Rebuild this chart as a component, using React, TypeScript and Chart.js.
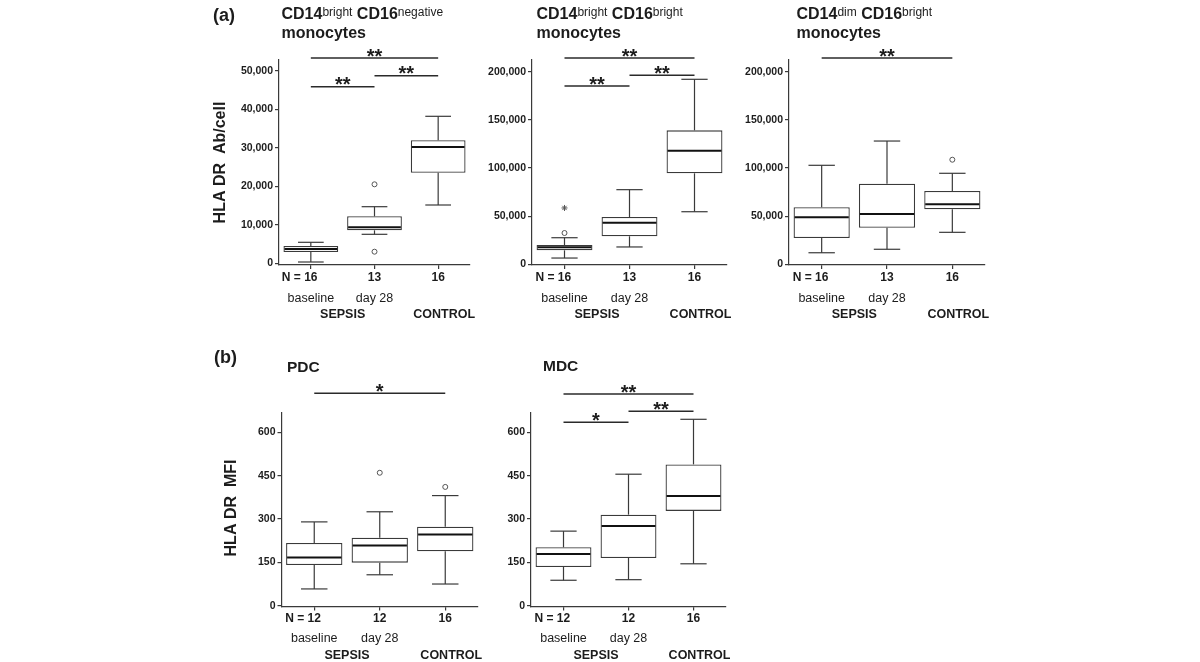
import React, { useEffect, useRef } from 'react';
import { Chart, registerables } from 'chart.js';

Chart.register(...registerables);

const FONT = '"Liberation Sans", Arial, Helvetica, sans-serif';
const TEXT = '#1c1c1c';
const LINE = '#3a3a3a';

// ---- categories and shared labels ----
const CATEGORIES_A = ['N = 16', '13', '16'];
const CATEGORIES_B = ['N = 12', '12', '16'];
const GROUP_LABELS = ['baseline', 'day 28'];
const SEPSIS_LABEL = 'SEPSIS';
const CONTROL_LABEL = 'CONTROL';

// ---- tick values / labels ----
const TICKS_A1 = [0, 10000, 20000, 30000, 40000, 50000];
const TICK_LABELS_A1 = ['0', '10,000', '20,000', '30,000', '40,000', '50,000'];
const TICKS_A23 = [0, 50000, 100000, 150000, 200000];
const TICK_LABELS_A23 = ['0', '50,000', '100,000', '150,000', '200,000'];
const TICKS_B = [0, 150, 300, 450, 600];
const TICK_LABELS_B = ['0', '150', '300', '450', '600'];

// ---- (a) CD14bright CD16negative monocytes ----
const A1_LOWER = [340, 7540, 15160];
const A1_Q1 = [2940, 8580, 23560];
const A1_MEDIAN = [3720, 9360, 30240];
const A1_Q3 = [4500, 12220, 31980];
const A1_UPPER = [5460, 14720, 38220];
const A1_OUTLIERS = [[], [20540, 3020], []];
const A1_EXTREMES = [[], [], []];
const A1_SIG_FROM = [0, 1, 0];
const A1_SIG_TO = [1, 2, 2];
const A1_SIG_Y = [45920, 48780, 53380];
const A1_SIG_TEXT = ['**', '**', '**'];

// ---- (a) CD14bright CD16bright monocytes ----
const A2_LOWER = [6500, 18000, 54600];
const A2_Q1 = [14500, 29100, 94500];
const A2_MEDIAN = [17600, 43200, 118000];
const A2_Q3 = [20000, 49100, 139100];
const A2_UPPER = [27600, 77500, 192100];
const A2_OUTLIERS = [[32500], [], []];
const A2_EXTREMES = [[58500], [], []];
const A2_SIG_FROM = [0, 1, 0];
const A2_SIG_TO = [1, 2, 2];
const A2_SIG_Y = [185100, 196300, 214200];
const A2_SIG_TEXT = ['**', '**', '**'];

// ---- (a) CD14dim CD16bright monocytes ----
const A3_LOWER = [12000, 15600, 33200];
const A3_Q1 = [27300, 38000, 57100];
const A3_MEDIAN = [48800, 52200, 62300];
const A3_Q3 = [59200, 83700, 76100];
const A3_UPPER = [102800, 128000, 94500];
const A3_OUTLIERS = [[], [], [108600]];
const A3_EXTREMES = [[], [], []];
const A3_SIG_FROM = [0];
const A3_SIG_TO = [2];
const A3_SIG_Y = [214200];
const A3_SIG_TEXT = ['**'];

// ---- (b) PDC ----
const B1_LOWER = [58, 107, 75];
const B1_Q1 = [141, 149, 188];
const B1_MEDIAN = [167, 208, 246];
const B1_Q3 = [217, 235, 273];
const B1_UPPER = [290, 325, 381];
const B1_OUTLIERS = [[], [460], [411]];
const B1_EXTREMES = [[], [], []];
const B1_SIG_FROM = [0];
const B1_SIG_TO = [2];
const B1_SIG_Y = [735];
const B1_SIG_TEXT = ['*'];

// ---- (b) MDC ----
const B2_LOWER = [88, 90, 145];
const B2_Q1 = [134, 165, 328];
const B2_MEDIAN = [179, 276, 380];
const B2_Q3 = [202, 315, 489];
const B2_UPPER = [258, 455, 645];
const B2_OUTLIERS = [[], [], []];
const B2_EXTREMES = [[], [], []];
const B2_SIG_FROM = [0, 1, 0];
const B2_SIG_TO = [1, 2, 2];
const B2_SIG_Y = [634.6, 672.6, 732.5];
const B2_SIG_TEXT = ['*', '**', '**'];

// ---- titles ----
const TITLE_A1 = [{ t: 'CD14', sup: false }, { t: 'bright', sup: true }, { t: ' CD16', sup: false }, { t: 'negative', sup: true }];
const TITLE_A2 = [{ t: 'CD14', sup: false }, { t: 'bright', sup: true }, { t: ' CD16', sup: false }, { t: 'bright', sup: true }];
const TITLE_A3 = [{ t: 'CD14', sup: false }, { t: 'dim', sup: true }, { t: ' CD16', sup: false }, { t: 'bright', sup: true }];
const TITLE_LINE2 = 'monocytes';
const TITLE_B1 = [{ t: 'PDC', sup: false }];
const TITLE_B2 = [{ t: 'MDC', sup: false }];
const Y_TITLE_A = 'HLA DR  Ab/cell';
const Y_TITLE_B = 'HLA DR  MFI';

type Seg = { t: string; sup: boolean };
type Panel = {
  key: string;
  canvas: { left: number; top: number; width: number; height: number };
  axisLeft: number; axisRight: number; plotTop: number; plotBottom: number;
  yMin: number; yMax: number; ticks: number[]; tickLabels: string[];
  categories: string[];
  lower: number[]; q1: number[]; median: number[]; q3: number[]; upper: number[];
  outliers: number[][]; extremes: number[][];
  sigFrom: number[]; sigTo: number[]; sigY: number[]; sigText: string[];
  title: Seg[]; titleSize: number; titleX: number; titleY: number; line2?: string; line2Y?: number;
  panelLabel?: { text: string; x: number; y: number };
  yTitle?: { text: string; x: number; y: number };
  catOffset: number; subOffset: number; groupOffset: number;
};

const PANELS: Panel[] = [
  {
    key: 'a1', canvas: { left: 200, top: 0, width: 290, height: 330 },
    axisLeft: 279, axisRight: 470, plotTop: 60, plotBottom: 265,
    yMin: -440, yMax: 52860, ticks: TICKS_A1, tickLabels: TICK_LABELS_A1,
    categories: CATEGORIES_A,
    lower: A1_LOWER, q1: A1_Q1, median: A1_MEDIAN, q3: A1_Q3, upper: A1_UPPER,
    outliers: A1_OUTLIERS, extremes: A1_EXTREMES,
    sigFrom: A1_SIG_FROM, sigTo: A1_SIG_TO, sigY: A1_SIG_Y, sigText: A1_SIG_TEXT,
    title: TITLE_A1, titleSize: 16, titleX: 281.5, titleY: 18.5, line2: TITLE_LINE2, line2Y: 37.5,
    panelLabel: { text: '(a)', x: 213, y: 21 },
    yTitle: { text: Y_TITLE_A, x: 225, y: 162.5 },
    catOffset: 16.3, subOffset: 37, groupOffset: 53.3,
  },
  {
    key: 'a2', canvas: { left: 478, top: 0, width: 272, height: 330 },
    axisLeft: 532, axisRight: 727, plotTop: 60, plotBottom: 265,
    yMin: -730, yMax: 212150, ticks: TICKS_A23, tickLabels: TICK_LABELS_A23,
    categories: CATEGORIES_A,
    lower: A2_LOWER, q1: A2_Q1, median: A2_MEDIAN, q3: A2_Q3, upper: A2_UPPER,
    outliers: A2_OUTLIERS, extremes: A2_EXTREMES,
    sigFrom: A2_SIG_FROM, sigTo: A2_SIG_TO, sigY: A2_SIG_Y, sigText: A2_SIG_TEXT,
    title: TITLE_A2, titleSize: 16, titleX: 536.5, titleY: 18.5, line2: TITLE_LINE2, line2Y: 37.5,
    catOffset: 16.3, subOffset: 37, groupOffset: 53.3,
  },
  {
    key: 'a3', canvas: { left: 740, top: 0, width: 270, height: 330 },
    axisLeft: 789, axisRight: 985, plotTop: 60, plotBottom: 265,
    yMin: -730, yMax: 212150, ticks: TICKS_A23, tickLabels: TICK_LABELS_A23,
    categories: CATEGORIES_A,
    lower: A3_LOWER, q1: A3_Q1, median: A3_MEDIAN, q3: A3_Q3, upper: A3_UPPER,
    outliers: A3_OUTLIERS, extremes: A3_EXTREMES,
    sigFrom: A3_SIG_FROM, sigTo: A3_SIG_TO, sigY: A3_SIG_Y, sigText: A3_SIG_TEXT,
    title: TITLE_A3, titleSize: 16, titleX: 796.5, titleY: 18.5, line2: TITLE_LINE2, line2Y: 37.5,
    catOffset: 16.3, subOffset: 37, groupOffset: 53.3,
  },
  {
    key: 'b1', canvas: { left: 200, top: 340, width: 290, height: 322 },
    axisLeft: 281.5, axisRight: 478, plotTop: 413, plotBottom: 606.5,
    yMin: -2.8, yMax: 666.8, ticks: TICKS_B, tickLabels: TICK_LABELS_B,
    categories: CATEGORIES_B,
    lower: B1_LOWER, q1: B1_Q1, median: B1_MEDIAN, q3: B1_Q3, upper: B1_UPPER,
    outliers: B1_OUTLIERS, extremes: B1_EXTREMES,
    sigFrom: B1_SIG_FROM, sigTo: B1_SIG_TO, sigY: B1_SIG_Y, sigText: B1_SIG_TEXT,
    title: TITLE_B1, titleSize: 15.5, titleX: 287, titleY: 371.5,
    panelLabel: { text: '(b)', x: 214, y: 363 },
    yTitle: { text: Y_TITLE_B, x: 236, y: 508 },
    catOffset: 15, subOffset: 35.5, groupOffset: 52.5,
  },
  {
    key: 'b2', canvas: { left: 478, top: 340, width: 272, height: 322 },
    axisLeft: 531, axisRight: 726, plotTop: 413, plotBottom: 606.5,
    yMin: -2.8, yMax: 666.8, ticks: TICKS_B, tickLabels: TICK_LABELS_B,
    categories: CATEGORIES_B,
    lower: B2_LOWER, q1: B2_Q1, median: B2_MEDIAN, q3: B2_Q3, upper: B2_UPPER,
    outliers: B2_OUTLIERS, extremes: B2_EXTREMES,
    sigFrom: B2_SIG_FROM, sigTo: B2_SIG_TO, sigY: B2_SIG_Y, sigText: B2_SIG_TEXT,
    title: TITLE_B2, titleSize: 15.5, titleX: 543, titleY: 370.5,
    catOffset: 15, subOffset: 35.5, groupOffset: 52.5,
  },
];

function line(ctx: CanvasRenderingContext2D, x1: number, y1: number, x2: number, y2: number) {
  ctx.beginPath();
  ctx.moveTo(x1, y1);
  ctx.lineTo(x2, y2);
  ctx.stroke();
}

function makePlugin(p: Panel) {
  return {
    id: 'boxExtras_' + p.key,
    afterDatasetsDraw(chart: any) {
      const ctx: CanvasRenderingContext2D = chart.ctx;
      const xs = chart.scales.x;
      const ys = chart.scales.y;
      const meta = chart.getDatasetMeta(0);
      ctx.save();
      for (let i = 0; i < p.categories.length; i++) {
        const x = xs.getPixelForValue(i);
        const half = meta.data[i].width / 2;
        const cap = half * 0.47;
        ctx.strokeStyle = LINE;
        ctx.lineWidth = 1.2;
        const yUp = ys.getPixelForValue(p.upper[i]);
        const yLo = ys.getPixelForValue(p.lower[i]);
        line(ctx, x, ys.getPixelForValue(p.q3[i]), x, yUp);
        line(ctx, x, ys.getPixelForValue(p.q1[i]), x, yLo);
        line(ctx, x - cap, yUp, x + cap, yUp);
        line(ctx, x - cap, yLo, x + cap, yLo);
        ctx.strokeStyle = '#111';
        ctx.lineWidth = 2;
        const yMed = ys.getPixelForValue(p.median[i]);
        line(ctx, x - half + 1, yMed, x + half - 1, yMed);
      }
      ctx.restore();
    },
    afterDraw(chart: any) {
      const ctx: CanvasRenderingContext2D = chart.ctx;
      const xs = chart.scales.x;
      const ys = chart.scales.y;
      const ox = p.canvas.left;
      const oy = p.canvas.top;
      const bottom = chart.chartArea.bottom;
      ctx.save();
      ctx.fillStyle = TEXT;
      ctx.textBaseline = 'alphabetic';

      // category labels (number centred under tick)
      ctx.font = `bold 12px ${FONT}`;
      ctx.textAlign = 'left';
      p.categories.forEach((lab, i) => {
        const x = xs.getPixelForValue(i);
        const m = lab.match(/^(.*?)(\d+)$/);
        const prefix = m ? m[1] : '';
        const num = m ? m[2] : lab;
        const left = x - ctx.measureText(num).width / 2 - (prefix ? ctx.measureText(prefix).width : 0);
        ctx.fillText(lab, left, bottom + p.catOffset);
      });

      // group sub-labels
      ctx.textAlign = 'center';
      ctx.font = `12.5px ${FONT}`;
      GROUP_LABELS.forEach((g, i) => {
        ctx.fillText(g, xs.getPixelForValue(i), bottom + p.subOffset);
      });
      ctx.font = `bold 12.5px ${FONT}`;
      ctx.fillText(SEPSIS_LABEL, (xs.getPixelForValue(0) + xs.getPixelForValue(1)) / 2, bottom + p.groupOffset);
      ctx.fillText(CONTROL_LABEL, xs.getPixelForValue(2) + 6, bottom + p.groupOffset);

      // significance bars
      ctx.strokeStyle = '#2a2a2a';
      ctx.lineWidth = 1.4;
      for (let k = 0; k < p.sigY.length; k++) {
        const y = ys.getPixelForValue(p.sigY[k]);
        const x1 = xs.getPixelForValue(p.sigFrom[k]);
        const x2 = xs.getPixelForValue(p.sigTo[k]);
        line(ctx, x1, y, x2, y);
        ctx.font = `bold 20px ${FONT}`;
        ctx.textAlign = 'center';
        ctx.fillText(p.sigText[k], (x1 + x2) / 2, y + 4.5);
      }

      // title
      ctx.textAlign = 'left';
      let tx = p.titleX - ox;
      const ty = p.titleY - oy;
      for (const s of p.title) {
        ctx.font = s.sup ? `12px ${FONT}` : `bold ${p.titleSize}px ${FONT}`;
        ctx.fillText(s.t, tx, s.sup ? ty - 3 : ty);
        tx += ctx.measureText(s.t).width;
      }
      if (p.line2 && p.line2Y !== undefined) {
        ctx.font = `bold ${p.titleSize}px ${FONT}`;
        ctx.fillText(p.line2, p.titleX - ox, p.line2Y - oy);
      }

      // panel label
      if (p.panelLabel) {
        ctx.font = `bold 18px ${FONT}`;
        ctx.fillText(p.panelLabel.text, p.panelLabel.x - ox, p.panelLabel.y - oy);
      }

      // y axis title
      if (p.yTitle) {
        ctx.save();
        ctx.translate(p.yTitle.x - ox, p.yTitle.y - oy);
        ctx.rotate(-Math.PI / 2);
        ctx.textAlign = 'center';
        ctx.font = `bold 16px ${FONT}`;
        ctx.fillText(p.yTitle.text, 0, 0);
        ctx.restore();
      }
      ctx.restore();
    },
  };
}

function makeChart(canvas: HTMLCanvasElement, p: Panel) {
  const yWidth = p.axisLeft - p.canvas.left;
  const padRight = p.canvas.left + p.canvas.width - p.axisRight;
  const padTop = p.plotTop - p.canvas.top;
  const xHeight = p.canvas.top + p.canvas.height - p.plotBottom;

  const outlierPts: { x: string; y: number }[] = [];
  p.outliers.forEach((arr, i) => arr.forEach((v) => outlierPts.push({ x: p.categories[i], y: v })));
  const extremePts: { x: string; y: number }[] = [];
  p.extremes.forEach((arr, i) => arr.forEach((v) => extremePts.push({ x: p.categories[i], y: v })));

  const config: any = {
    type: 'bar',
    data: {
      labels: p.categories,
      datasets: [
        {
          type: 'bar',
          data: p.q1.map((v, i) => [v, p.q3[i]]),
          backgroundColor: '#ffffff',
          borderColor: LINE,
          borderWidth: 1.3,
          borderSkipped: false,
          barPercentage: 1,
          categoryPercentage: 0.86,
        },
        {
          type: 'line',
          data: outlierPts,
          showLine: false,
          pointStyle: 'circle',
          pointRadius: 2.5,
          pointBackgroundColor: '#ffffff',
          pointBorderColor: '#555',
          pointBorderWidth: 1,
        },
        {
          type: 'line',
          data: extremePts,
          showLine: false,
          pointStyle: 'star',
          pointRadius: 3,
          pointBackgroundColor: '#555',
          pointBorderColor: '#555',
          pointBorderWidth: 1,
        },
      ],
    },
    options: {
      responsive: false,
      animation: false,
      events: [],
      layout: { padding: { top: padTop, right: padRight, left: 0, bottom: 0 } },
      plugins: { legend: { display: false }, tooltip: { enabled: false } },
      scales: {
        x: {
          type: 'category',
          offset: true,
          grid: { display: true, offset: false, drawOnChartArea: false, drawTicks: true, tickLength: 4, color: LINE, lineWidth: 1.2 },
          border: { display: true, color: LINE, width: 1.2 },
          ticks: { display: false },
          afterFit: (s: any) => { s.height = xHeight; },
        },
        y: {
          type: 'linear',
          min: p.yMin,
          max: p.yMax,
          afterBuildTicks: (s: any) => { s.ticks = p.ticks.map((v) => ({ value: v })); },
          ticks: {
            callback: (_v: any, i: number) => p.tickLabels[i],
            font: { family: FONT, size: 10.5, weight: 'bold' },
            color: TEXT,
            padding: 2,
            autoSkip: false,
          },
          grid: { display: true, drawOnChartArea: false, drawTicks: true, tickLength: 4, color: LINE, lineWidth: 1.2 },
          border: { display: true, color: LINE, width: 1.2 },
          afterFit: (s: any) => { s.width = yWidth; },
        },
      },
    },
    plugins: [makePlugin(p)],
  };
  return new Chart(canvas, config);
}

export default function App() {
  const refs = useRef<(HTMLCanvasElement | null)[]>([]);
  useEffect(() => {
    const charts = PANELS.map((p, i) => makeChart(refs.current[i] as HTMLCanvasElement, p));
    return () => charts.forEach((c) => c.destroy());
  }, []);
  return (
    <div style={{ position: 'absolute', left: 0, top: 0, width: 1200, height: 662, background: '#fff', overflow: 'hidden' }}>
      {PANELS.map((p, i) => (
        <canvas
          key={p.key}
          ref={(el) => { refs.current[i] = el; }}
          width={p.canvas.width}
          height={p.canvas.height}
          style={{ position: 'absolute', left: p.canvas.left, top: p.canvas.top, width: p.canvas.width, height: p.canvas.height }}
        />
      ))}
    </div>
  );
}
